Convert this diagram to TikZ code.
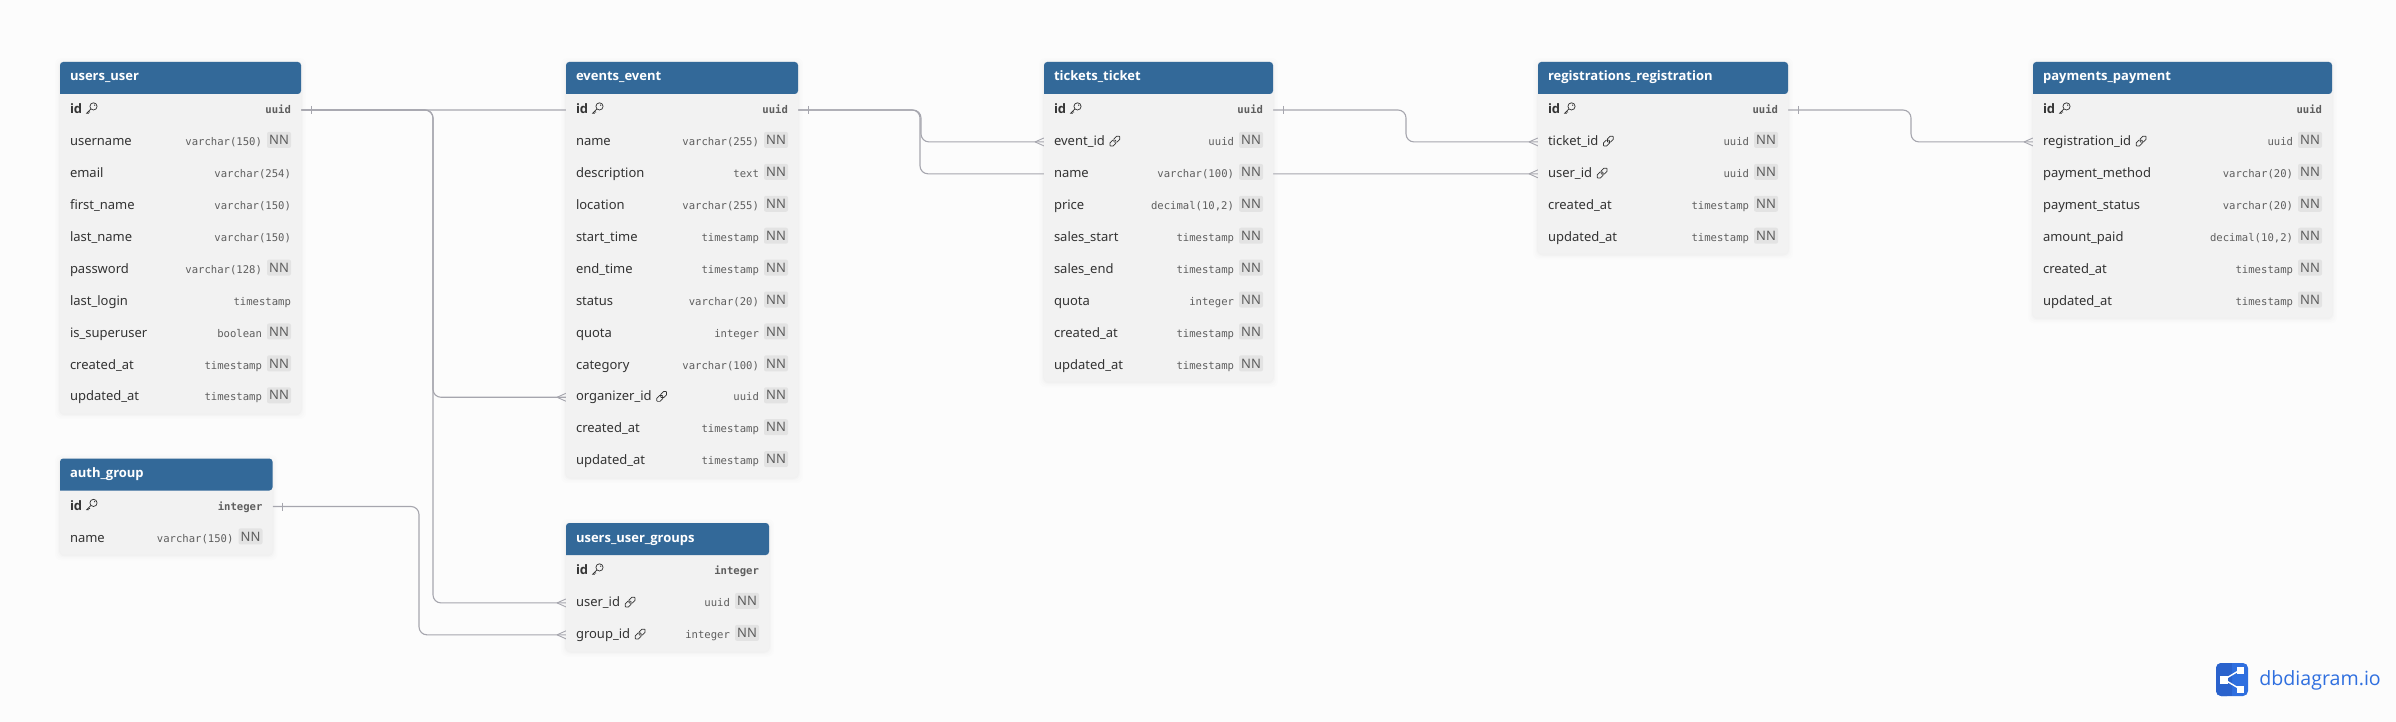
\documentclass[tikz,border=0pt]{standalone}
\usepackage{fontspec}
\setmainfont{Noto Sans}
\newfontfamily\typefont{DejaVu Sans Mono}
\newfontfamily\logofont{Open Sans}
\usetikzlibrary{calc}
\catcode`\_=12
\definecolor{pagebg}{HTML}{FCFCFC}
\definecolor{headblue}{HTML}{336999}
\definecolor{bodygray}{HTML}{F2F2F2}
\definecolor{badge}{HTML}{E3E3E3}
\definecolor{nametext}{HTML}{333333}
\definecolor{typetext}{HTML}{5E5E5E}
\definecolor{linkline}{HTML}{A6A6AE}
\definecolor{logoblue}{HTML}{2F6FDF}
\definecolor{logodark}{HTML}{2A62CC}
\pgfdeclarelayer{under}
\pgfdeclarelayer{lines}
\pgfsetlayers{under,lines,main}
\tikzset{
  x=0.5pt,y=-0.5pt,
  rowbox/.style={inner sep=0,outer sep=0},
  nametxt/.style={anchor=base west,inner sep=0,outer sep=0,text=nametext,font=\fontsize{6.5pt}{8pt}\selectfont},
  pkname/.style={nametxt,font=\fontsize{6.5pt}{8pt}\selectfont\logofont\bfseries},
  typetxt/.style={anchor=base east,inner sep=0,outer sep=0,text=typetext,font=\fontsize{5.3pt}{7pt}\selectfont\typefont},
  pktype/.style={typetxt,font=\fontsize{5.3pt}{7pt}\selectfont\typefont\bfseries},
  nnbadge/.style={anchor=east,fill=badge,rounded corners=1pt,inner sep=0,outer sep=0,minimum width=12pt,minimum height=8pt,text=typetext,font=\fontsize{6.5pt}{8pt}\selectfont},
  titletxt/.style={anchor=base west,inner sep=0,outer sep=0,text=white,font=\fontsize{6.5pt}{8pt}\selectfont\logofont\bfseries},
  rel/.style={draw=linkline,line width=0.55pt,rounded corners=4pt},
  relmark/.style={draw=linkline,line width=0.45pt},
  iconline/.style={draw=nametext,line width=0.36pt},
}
% one-side mark and many-side mark
\newcommand{\onemark}[1]{\draw[relmark] ($(#1)+(10,-4)$) -- ($(#1)+(10,4)$);}
\newcommand{\manymark}[1]{\draw[relmark] ($(#1)+(-9,0)$) -- ($(#1)+(0,-4)$) ($(#1)+(-9,0)$) -- ($(#1)+(0,4)$);}
% icons
\newcommand{\keyicon}[1]{%
  \begin{scope}[shift={($(#1)+(9.5,-5.5)$)}]
    \draw[iconline] (1.8,-1.8) circle[radius=1.8pt];
    \fill[nametext] (3,-3) circle[radius=0.35pt];
    \draw[iconline] (-0.8,0.8) -- (-5,5) -- (-2.8,5) (-3.4,3.4) -- (-1.6,4);
  \end{scope}}
\newcommand{\linkicon}[1]{%
  \begin{scope}[shift={($(#1)+(10,-4.5)$)},rotate=45]
    \draw[iconline,rounded corners=0.9pt] (-6.5,-2.2) rectangle (1,2.2);
    \draw[iconline,rounded corners=0.9pt] (-1,-2.2) rectangle (6.5,2.2);
  \end{scope}}
% flags
\newcommand{\rowflagp}[3]{% primary key
  \node[pkname] (#1-nm) at (#2,#3) {\rowname};
  \keyicon{#1-nm.base east}
  \node[pktype] at (\rightedge,#3) {\rowtype};}
\newcommand{\rowflagn}[3]{% not null
  \node[nametxt] (#1-nm) at (#2,#3) {\rowname};
  \node[nnbadge] (#1-nn) at (\rightedge,#3-5.7) {NN};
  \node[typetxt] at (\rightedge-29,#3) {\rowtype};}
\newcommand{\rowflago}[3]{% nullable
  \node[nametxt] (#1-nm) at (#2,#3) {\rowname};
  \node[typetxt] at (\rightedge,#3) {\rowtype};}
\newcommand{\rowflagf}[3]{% foreign key, not null
  \node[nametxt] (#1-nm) at (#2,#3) {\rowname};
  \linkicon{#1-nm.base east}
  \node[nnbadge] (#1-nn) at (\rightedge,#3-5.7) {NN};
  \node[typetxt] at (\rightedge-29,#3) {\rowtype};}
% table: key, title, left, top, width, rows
\newcommand{\dbtable}[6]{%
  \def\rowcountx{0}%
  \foreach \a/\b/\c in {#6} {\xdef\rowcountx{\the\numexpr\rowcountx+1\relax}}%
  \pgfmathsetmacro{\tblh}{32+31.92*\rowcountx}%
  \pgfmathsetmacro{\rightedge}{#3+#5-10}%
  \begin{pgfonlayer}{under}
    \foreach \g/\o in {5/0.006,3.5/0.008,2/0.012,1/0.016}
      \fill[black,opacity=\o,rounded corners=3pt] (#3-\g,#4-\g+1) rectangle (#3+#5+\g,#4+\tblh+\g+1);
  \end{pgfonlayer}
  \fill[bodygray,rounded corners=1.6pt] (#3,#4) rectangle (#3+#5,#4+\tblh);
  \fill[headblue,rounded corners=1.6pt] (#3,#4+32) -- (#3,#4) -- (#3+#5,#4) -- (#3+#5,#4+32) [sharp corners] -- cycle;
  \node[titletxt] (#1-title) at (#3+10,#4+19) {#2};
  \foreach \rowname/\rowtype/\f [count=\i from 0] in {#6} {
    \pgfmathsetmacro{\cy}{#4+48+31.92*\i}
    \node[rowbox,minimum width={#5*0.5pt},minimum height=16pt] (#1-\rowname) at (#3+#5/2,\cy) {};
    \csname rowflag\f\endcsname{#1-\rowname}{#3+10}{\cy+3.7}
  }
}
\begin{document}
\begin{tikzpicture}
\begin{pgfonlayer}{under}
  \fill[pagebg] (0,0) rectangle (2396,722);
\end{pgfonlayer}
\useasboundingbox (0,0) rectangle (2396,722);

\dbtable{uu}{users_user}{60}{62}{241}{
  id/uuid/p,username/varchar(150)/n,email/varchar(254)/o,first_name/varchar(150)/o,
  last_name/varchar(150)/o,password/varchar(128)/n,last_login/timestamp/o,
  is_superuser/boolean/n,created_at/timestamp/n,updated_at/timestamp/n}
\dbtable{ag}{auth_group}{60}{458.5}{212.5}{
  id/integer/p,name/varchar(150)/n}
\dbtable{ev}{events_event}{566}{62}{232}{
  id/uuid/p,name/varchar(255)/n,description/text/n,location/varchar(255)/n,
  start_time/timestamp/n,end_time/timestamp/n,status/varchar(20)/n,quota/integer/n,
  category/varchar(100)/n,organizer_id/uuid/f,created_at/timestamp/n,updated_at/timestamp/n}
\dbtable{ug}{users_user_groups}{566}{523}{203}{
  id/integer/p,user_id/uuid/f,group_id/integer/f}
\dbtable{tk}{tickets_ticket}{1044}{62}{229}{
  id/uuid/p,event_id/uuid/f,name/varchar(100)/n,price/{decimal(10,2)}/n,
  sales_start/timestamp/n,sales_end/timestamp/n,quota/integer/n,
  created_at/timestamp/n,updated_at/timestamp/n}
\dbtable{rg}{registrations_registration}{1538}{62}{250}{
  id/uuid/p,ticket_id/uuid/f,user_id/uuid/f,created_at/timestamp/n,updated_at/timestamp/n}
\dbtable{pm}{payments_payment}{2033}{62}{299}{
  id/uuid/p,registration_id/uuid/f,payment_method/varchar(20)/n,payment_status/varchar(20)/n,
  amount_paid/{decimal(10,2)}/n,created_at/timestamp/n,updated_at/timestamp/n}

\coordinate (vUsers) at (433,0);
\coordinate (vGroup) at (419,0);
\coordinate (vEvent) at (921,0);
\coordinate (vUserReg) at (920,0);
\coordinate (vTicket) at (1406,0);
\coordinate (vReg) at (1911,0);

\begin{pgfonlayer}{lines}
  \draw[rel] (uu-id.east) -- (uu-id.east -| vUserReg) -- (rg-user_id.west -| vUserReg) -- (rg-user_id.west);
  \draw[rel] (uu-id.east) -- (uu-id.east -| vUsers) -- (ev-organizer_id.west -| vUsers) -- (ev-organizer_id.west);
  \draw[rel] (uu-id.east) -- (uu-id.east -| vUsers) -- (ug-user_id.west -| vUsers) -- (ug-user_id.west);
  \draw[rel] (ag-id.east) -- (ag-id.east -| vGroup) -- (ug-group_id.west -| vGroup) -- (ug-group_id.west);
  \draw[rel] (ev-id.east) -- (ev-id.east -| vEvent) -- (tk-event_id.west -| vEvent) -- (tk-event_id.west);
  \draw[rel] (tk-id.east) -- (tk-id.east -| vTicket) -- (rg-ticket_id.west -| vTicket) -- (rg-ticket_id.west);
  \draw[rel] (rg-id.east) -- (rg-id.east -| vReg) -- (pm-registration_id.west -| vReg) -- (pm-registration_id.west);
  \onemark{uu-id.east}\onemark{ag-id.east}\onemark{ev-id.east}\onemark{tk-id.east}\onemark{rg-id.east}
  \manymark{ev-organizer_id.west}\manymark{ug-user_id.west}\manymark{ug-group_id.west}
  \manymark{tk-event_id.west}\manymark{rg-ticket_id.west}\manymark{rg-user_id.west}\manymark{pm-registration_id.west}
\end{pgfonlayer}

% logo
\fill[logoblue,rounded corners=2.5pt] (2216,663) rectangle (2248,696);
\fill[logodark,rounded corners=2.5pt] (2216,663) rectangle (2232,696);
\fill[logodark] (2226,663) rectangle (2232,696);
\coordinate (sA) at (2224,679.5);
\coordinate (sB) at (2240,670);
\coordinate (sC) at (2240,689);
\draw[white,line width=0.7pt] (sB) -- (sA) -- (sC);
\fill[white] (2220,675.5) rectangle (2228,683.5);
\fill[white] (2236.5,666.5) rectangle (2243.5,673.5);
\fill[white] (2236.5,685.5) rectangle (2243.5,692.5);
\node[anchor=west,inner sep=0,text=logoblue,font=\fontsize{9.8pt}{12pt}\selectfont\logofont] (logo) at (2259,680) {dbdiagram.io};
\end{tikzpicture}
\end{document}
